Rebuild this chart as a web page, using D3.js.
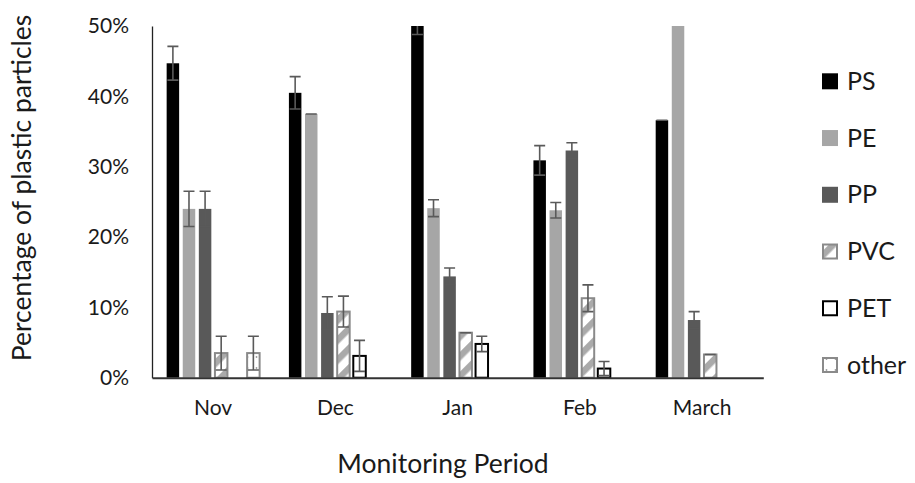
<!DOCTYPE html>
<html>
<head>
<meta charset="utf-8">
<script src="https://cdn.jsdelivr.net/npm/d3@7"></script>
<style>
  html, body { margin: 0; padding: 0; background: #fff; }
  svg { display: block; font-family: Lato, "Open Sans", sans-serif; }
</style>
</head>
<body>
<svg id="chart" width="915" height="483"></svg>
<script>
// ---- data ----
const months = ["Nov", "Dec", "Jan", "Feb", "March"];
const series = ["PS", "PE", "PP", "PVC", "PET", "other"];
const PS    = [44.7, 40.5, 50.0, 30.9, 36.6];
const PE    = [24.0, 37.5, 24.1, 23.8, 51.9];
const PP    = [24.0,  9.2, 14.4, 32.3,  8.2];
const PVC   = [ 3.5,  9.4,  6.4, 11.3,  3.3];
const PET   = [ 0.0,  3.1,  4.8,  1.3,  0.0];
const other = [ 3.5,  0.0,  0.0,  0.0,  0.0];
const PS_err    = [2.4, 2.3, 1.2, 2.1, 0.0];
const PE_err    = [2.5, 0.0, 1.2, 1.1, 0.0];
const PP_err    = [2.5, 2.3, 1.2, 1.1, 1.2];
const PVC_err   = [2.4, 2.2, 0.0, 1.9, 0.0];
const PET_err   = [0.0, 2.2, 1.1, 1.0, 0.0];
const other_err = [2.4, 0.0, 0.0, 0.0, 0.0];
const yTicks = [0, 10, 20, 30, 40, 50];
const yTitle = "Percentage of plastic particles";
const xTitle = "Monitoring Period";

const valuesBySeries = { PS, PE, PP, PVC, PET, other };
const errBySeries = { PS: PS_err, PE: PE_err, PP: PP_err, PVC: PVC_err, PET: PET_err, other: other_err };

const rows = [];
months.forEach((m, i) => {
  series.forEach(s => rows.push({ month: m, series: s, v: valuesBySeries[s][i], e: errBySeries[s][i] }));
});

// ---- layout ----
const plot = { left: 152, right: 763.3, top: 26, bottom: 377.7 };
const svg = d3.select("#chart");

const x0 = d3.scaleBand().domain(months).range([plot.left, plot.right]).paddingInner(0).paddingOuter(0);
const x1 = d3.scaleBand().domain(series).range([0, x0.bandwidth()]).paddingInner(0.224).paddingOuter(0.91);
const y = d3.scaleLinear().domain([0, 50]).range([plot.bottom, plot.top]);

// ---- patterns ----
const defs = svg.append("defs");
const hatch = defs.append("pattern").attr("id", "hatch")
  .attr("patternUnits", "userSpaceOnUse").attr("width", 14).attr("height", 14)
  .attr("patternTransform", "rotate(45)");
hatch.append("rect").attr("width", 14).attr("height", 14).attr("fill", "#fff");
hatch.append("rect").attr("width", 6.5).attr("height", 14).attr("fill", "#aaaaaa");

const dots = defs.append("pattern").attr("id", "dots")
  .attr("patternUnits", "userSpaceOnUse").attr("width", 9).attr("height", 11);
dots.append("rect").attr("width", 9).attr("height", 11).attr("fill", "#fff");
dots.append("circle").attr("cx", 4.5).attr("cy", 5).attr("r", 0.9).attr("fill", "#9a9a9a");

defs.append("clipPath").attr("id", "plotClip").append("rect")
  .attr("x", plot.left - 20).attr("y", plot.top).attr("width", plot.right - plot.left + 40).attr("height", plot.bottom - plot.top + 10);

const style = {
  PS:    { fill: "#000000", stroke: "none", sw: 0 },
  PE:    { fill: "#a6a6a6", stroke: "none", sw: 0 },
  PP:    { fill: "#595959", stroke: "none", sw: 0 },
  PVC:   { fill: "url(#hatch)", stroke: "#8a8a8a", sw: 2 },
  PET:   { fill: "#ffffff", stroke: "#000000", sw: 2 },
  other: { fill: "url(#dots)", stroke: "#8a8a8a", sw: 2 }
};

// ---- bars ----
const g = svg.append("g").attr("clip-path", "url(#plotClip)");
g.selectAll("rect.bar").data(rows).join("rect").attr("class", "bar")
  .attr("x", d => x0(d.month) + x1(d.series))
  .attr("width", x1.bandwidth())
  .attr("y", d => y(d.v))
  .attr("height", d => y(0) - y(d.v))
  .attr("fill", d => style[d.series].fill)
  .attr("stroke", d => d.v > 0 ? style[d.series].stroke : "none")
  .attr("stroke-width", d => style[d.series].sw);

// ---- error bars ----
const capW = 11;
const eb = g.selectAll("g.err").data(rows.filter(d => d.v > 0)).join("g").attr("class", "err")
  .attr("transform", d => `translate(${x0(d.month) + x1(d.series) + x1.bandwidth() / 2},0)`)
  .attr("stroke", "#5a5a5a").attr("stroke-width", 1.6).attr("fill", "none");
eb.append("line").attr("x1", 0).attr("x2", 0)
  .attr("y1", d => y(d.v + d.e)).attr("y2", d => y(d.v - d.e));
eb.append("line").attr("x1", -capW / 2).attr("x2", capW / 2)
  .attr("y1", d => y(d.v + d.e)).attr("y2", d => y(d.v + d.e));
eb.append("line").attr("x1", -capW / 2).attr("x2", capW / 2)
  .attr("y1", d => y(d.v - d.e)).attr("y2", d => y(d.v - d.e))
  .attr("display", d => d.e > 0 ? null : "none");

// ---- axes ----
const yAxis = d3.axisLeft(y).tickValues(yTicks).tickSize(0).tickPadding(23).tickFormat(d => d + "%");
const ya = svg.append("g").attr("transform", `translate(${plot.left},0)`).call(yAxis);
ya.select(".domain").attr("stroke", "#222").attr("stroke-width", 1.3);
ya.selectAll("text").attr("font-size", 21).attr("fill", "#1a1a1a").attr("font-family", "Lato");

const xAxis = d3.axisBottom(x0).tickSize(0).tickPadding(22);
const xa = svg.append("g").attr("transform", `translate(0,${plot.bottom})`).call(xAxis);
xa.select(".domain").attr("stroke", "#333").attr("stroke-width", 2);
xa.selectAll("text").attr("font-size", 21).attr("fill", "#1a1a1a").attr("font-family", "Lato");

// ---- titles ----
svg.append("text").attr("transform", `translate(31,${188}) rotate(-90)`)
  .attr("text-anchor", "middle").attr("font-size", 26.5).attr("fill", "#1a1a1a").text(yTitle);
svg.append("text").attr("x", 443).attr("y", 473)
  .attr("text-anchor", "middle").attr("font-size", 26.5).attr("fill", "#1a1a1a").text(xTitle);

// ---- legend ----
const legY = d3.scalePoint().domain(series).range([81.3, 365]);
const leg = svg.append("g").selectAll("g").data(series).join("g")
  .attr("transform", d => `translate(822,${legY(d)})`);
leg.append("rect").attr("x", d => style[d].sw ? 1 : 0).attr("y", d => style[d].sw ? -7 : -8)
  .attr("width", d => style[d].sw ? 14 : 16).attr("height", d => style[d].sw ? 14 : 16)
  .attr("fill", d => style[d].fill).attr("stroke", d => style[d].stroke).attr("stroke-width", d => style[d].sw);
leg.append("text").attr("x", 25).attr("y", 8.5).attr("font-size", 25).attr("fill", "#1a1a1a").text(d => d);
</script>
</body>
</html>
